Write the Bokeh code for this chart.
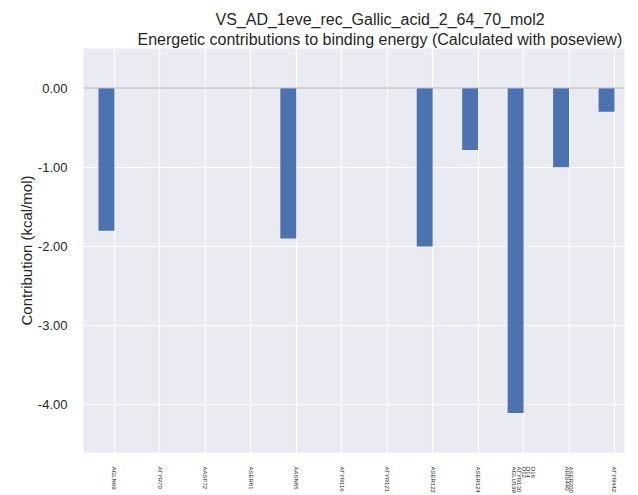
import numpy as np
from bokeh.plotting import figure
from bokeh.models import ColumnDataSource, FixedTicker, NumeralTickFormatter, Range1d, Span, Title
from bokeh.embed import file_html
from bokeh.resources import INLINE

# ---- data ----
residues = ["AGLN69", "ATYR70", "AASP72", "ASER81", "AASN85", "ATYR116", "ATYR121",
            "ASER122", "ASER124", "AGLU199\nATYR130\nO12\nO14\nO16", "AHIS440\nASER200", "ATYR442"]
contributions = [-1.80, 0.0, 0.0, 0.0, -1.90, 0.0, 0.0, -2.00, -0.78, -4.10, -1.00, -0.30]
y_ticks = [0, -1, -2, -3, -4]
title_line1 = "VS_AD_1eve_rec_Gallic_acid_2_64_70_mol2"
title_line2 = "Energetic contributions to binding energy (Calculated with poseview)"
y_label = "Contribution (kcal/mol)"

FONT = "Liberation Sans"
bar_width = 0.35
line_step = 0.106  # spacing between lines of a multi-line tick label (data units)
idx = np.arange(len(residues))

src = ColumnDataSource(dict(
    x=idx - bar_width / 2,
    top=np.zeros(len(residues)),
    bottom=contributions,
    name=residues,
))

# one axis tick per label line, so multi-line labels stack left-to-right
tick_pos, tick_txt = [], {}
for i, r in zip(idx, residues):
    lines = r.split("\n")
    n = len(lines)
    for k, ln in enumerate(lines):
        t = round(float(i) + (k - (n - 1) / 2) * line_step, 4)
        tick_pos.append(t)
        tick_txt[t] = ln

p = figure(width=638, height=495, output_backend="svg", toolbar_location=None,
           x_range=Range1d(-0.68, 11.22), y_range=Range1d(-4.6, 0.5),
           title_location=None,
           min_border_left=83, min_border_right=14, min_border_top=48, min_border_bottom=43)

p.background_fill_color = "#EAEAF2"
p.border_fill_color = "white"
p.outline_line_color = None

p.vbar(x="x", width=bar_width, top="top", bottom="bottom", source=src,
       fill_color="#4C72B0", line_color=None)

p.add_layout(Span(location=0, dimension="width", line_color="#b0b0b0", line_width=1))

# x axis
p.xaxis.ticker = FixedTicker(ticks=tick_pos)
p.xaxis.major_label_overrides = tick_txt
p.xaxis.major_label_orientation = "vertical"
p.xaxis.major_label_text_font = FONT
p.xaxis.major_label_text_font_size = "6px"
p.xaxis.major_label_text_color = "#262626"
p.xaxis.major_label_standoff = 8
p.xaxis.axis_line_color = None
p.xaxis.major_tick_line_color = None
p.xaxis.minor_tick_line_color = None

# y axis
p.yaxis.ticker = FixedTicker(ticks=y_ticks)
p.yaxis.formatter = NumeralTickFormatter(format="0.00")
p.yaxis.major_label_text_font = FONT
p.yaxis.major_label_text_font_size = "13px"
p.yaxis.major_label_text_color = "#262626"
p.yaxis.major_label_standoff = 10
p.yaxis.axis_label = y_label
p.yaxis.axis_label_text_font = FONT
p.yaxis.axis_label_text_font_size = "15px"
p.yaxis.axis_label_text_font_style = "normal"
p.yaxis.axis_label_text_color = "#262626"
p.yaxis.axis_label_standoff = 0
p.yaxis.axis_line_color = None
p.yaxis.major_tick_line_color = None
p.yaxis.minor_tick_line_color = None

p.xgrid.ticker = FixedTicker(ticks=list(idx))
p.xgrid.grid_line_color = "white"
p.xgrid.grid_line_width = 1.2
p.ygrid.grid_line_color = "white"
p.ygrid.grid_line_width = 1.2

p.add_layout(Title(text=title_line2, align="left", offset=54, text_font=FONT,
                   text_font_size="16px", text_font_style="normal", text_color="#262626",
                   standoff=2), "above")
p.add_layout(Title(text=title_line1, align="left", offset=132, text_font=FONT,
                   text_font_size="16px", text_font_style="normal", text_color="#262626",
                   standoff=0), "above")

open("out.html", "w").write(file_html(p, INLINE))
